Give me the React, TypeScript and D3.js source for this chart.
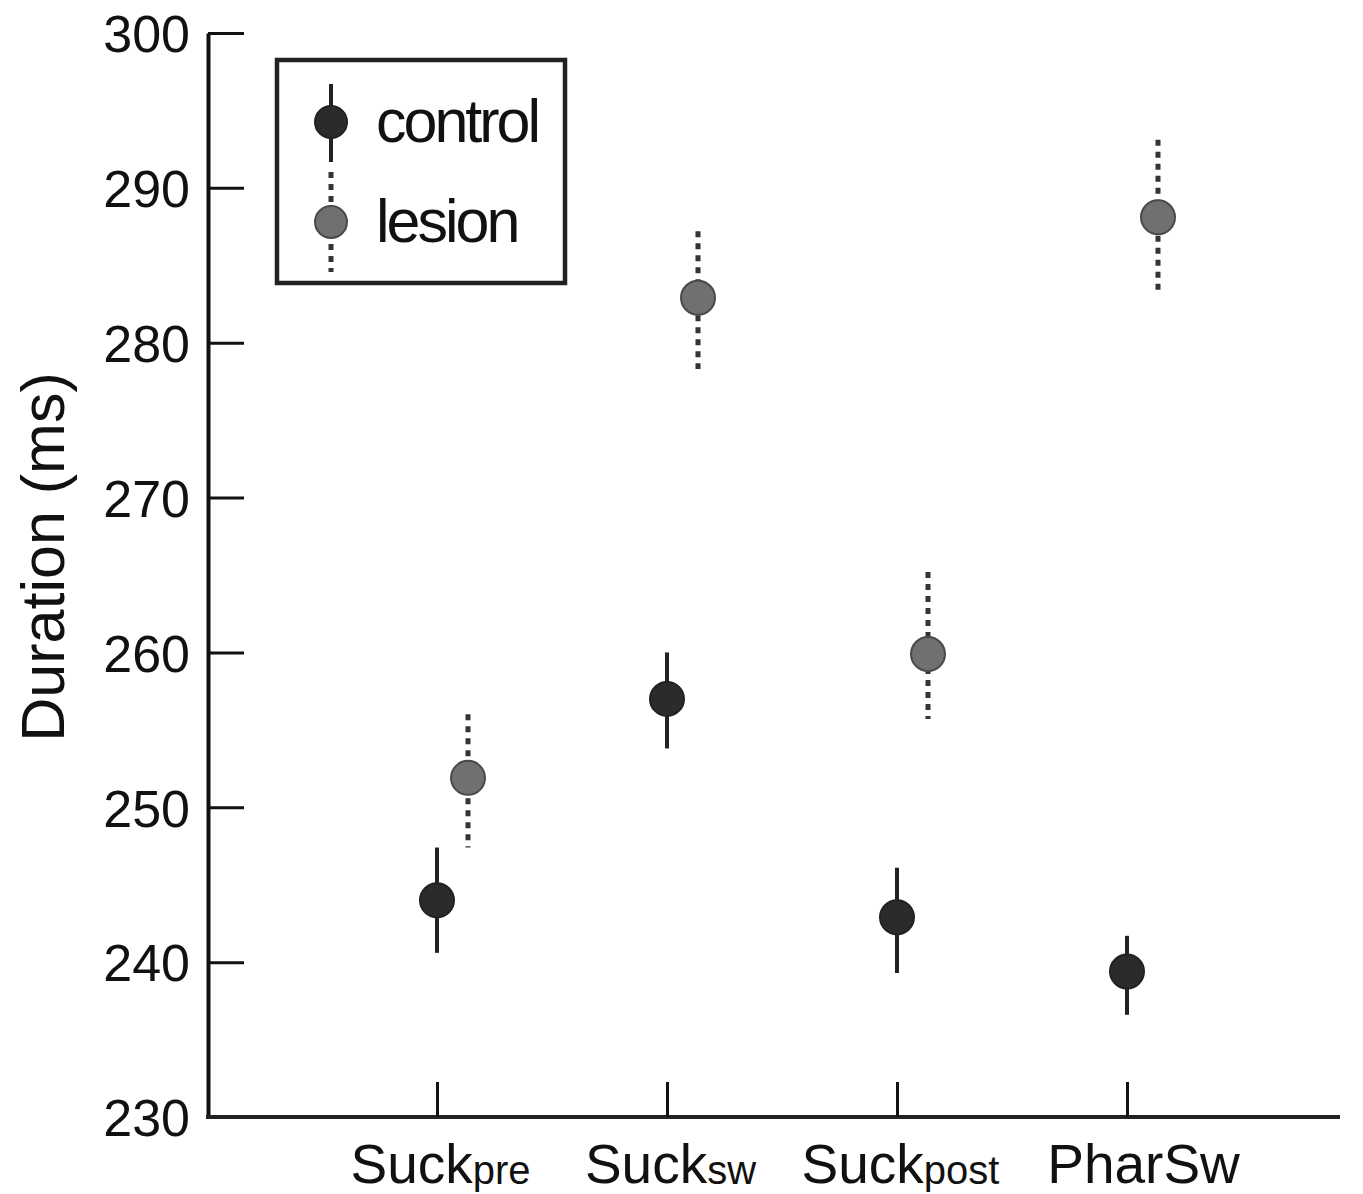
import React, { useEffect, useRef } from 'react';
import * as d3 from 'd3';

// categories and tick labels
const categories = ['Suckpre', 'SuckSW', 'Suckpost', 'PharSw'];
const labelMain = ['Suck', 'Suck', 'Suck', 'PharSw'];
const labelSub = ['pre', 'sw', 'post', ''];
const yTicks = [230, 240, 250, 260, 270, 280, 290, 300];

// series: mean and error bar limits (ms)
const controlMean = [244.0, 257.0, 242.9, 239.4];
const controlLow = [240.6, 253.8, 239.3, 236.6];
const controlHigh = [247.4, 260.0, 246.1, 241.7];

const lesionMean = [251.9, 282.9, 259.9, 288.1];
const lesionLow = [247.4, 278.3, 255.7, 283.2];
const lesionHigh = [256.0, 287.2, 265.2, 293.1];

const FONT = 'Liberation Sans, Arial, sans-serif';

const App = () => {
  const ref = useRef<SVGSVGElement | null>(null);

  useEffect(() => {
    if (!ref.current) return;
    const svg = d3.select(ref.current);
    svg.selectAll('*').remove();

    const left = 208, right = 1340, top = 33, bottom = 1117;

    const y = d3.scaleLinear().domain([230, 300]).range([bottom, top]);
    const x = d3.scalePoint<string>().domain(categories).range([437, 1127]);
    const offset = d3.scaleOrdinal<string, number>().domain(['control', 'lesion']).range([0, 31]);

    // Y axis
    const gy = svg.append('g')
      .attr('transform', `translate(${left},0)`)
      .call(d3.axisLeft(y).tickValues(yTicks).tickSize(-36).tickSizeOuter(0).tickPadding(18));
    gy.select('.domain').attr('stroke', '#111').attr('stroke-width', 4);
    gy.selectAll('.tick line').attr('stroke', '#111').attr('stroke-width', 3);
    gy.selectAll('.tick text')
      .attr('font-family', FONT)
      .attr('font-size', 52)
      .attr('fill', '#111')
      .attr('dy', '0.36em');

    // X axis
    svg.append('line')
      .attr('x1', left - 2).attr('x2', right)
      .attr('y1', bottom).attr('y2', bottom)
      .attr('stroke', '#222').attr('stroke-width', 4);
    const gx = svg.append('g')
      .attr('transform', `translate(0,${bottom})`)
      .call(d3.axisBottom(x).tickSize(-35).tickSizeOuter(0).tickPadding(0));
    gx.select('.domain').remove();
    gx.selectAll('.tick line').attr('stroke', '#111').attr('stroke-width', 3);
    gx.selectAll<SVGTextElement, string>('.tick text').each(function (_d, i) {
      const t = d3.select(this);
      t.text(null)
        .attr('font-family', FONT)
        .attr('fill', '#111')
        .attr('y', 66)
        .attr('dy', null)
        .attr('dx', labelSub[i] ? 3 : 16)
        .attr('text-anchor', 'middle');
      t.append('tspan').attr('font-size', 55).text(labelMain[i]);
      if (labelSub[i]) t.append('tspan').attr('font-size', 40).attr('dy', 1).text(labelSub[i]);
    });

    // Y title
    svg.append('text')
      .attr('transform', `translate(64,557) rotate(-90)`)
      .attr('text-anchor', 'middle')
      .attr('font-family', FONT)
      .attr('font-size', 61)
      .attr('fill', '#111')
      .text('Duration (ms)');

    const series = [
      { key: 'control', mean: controlMean, low: controlLow, high: controlHigh, fill: '#2b2b2b', stroke: '#222', dash: null as string | null },
      { key: 'lesion', mean: lesionMean, low: lesionLow, high: lesionHigh, fill: '#707070', stroke: '#333', dash: '6 6' },
    ];

    series.forEach(s => {
      const g = svg.append('g');
      const cx = (c: string) => (x(c) as number) + offset(s.key);
      g.selectAll('line.err')
        .data(categories)
        .join('line')
        .attr('class', 'err')
        .attr('x1', d => cx(d)).attr('x2', d => cx(d))
        .attr('y1', (_d, i) => y(s.high[i])).attr('y2', (_d, i) => y(s.low[i]))
        .attr('stroke', s.stroke)
        .attr('stroke-width', s.dash ? 5 : 4)
        .attr('stroke-dasharray', s.dash);
      g.selectAll('circle')
        .data(categories)
        .join('circle')
        .attr('cx', d => cx(d))
        .attr('cy', (_d, i) => y(s.mean[i]))
        .attr('r', 17)
        .attr('fill', s.fill)
        .attr('stroke', s.key === 'lesion' ? '#4a4a4a' : '#222')
        .attr('stroke-width', 2);
    });

    // Legend
    const lg = svg.append('g');
    lg.append('rect')
      .attr('x', 277).attr('y', 60).attr('width', 288).attr('height', 223)
      .attr('fill', 'white').attr('stroke', '#222').attr('stroke-width', 4.5);
    const legendItems = [
      { label: 'control', cy: 122, y1: 84, y2: 162, s: series[0] },
      { label: 'lesion', cy: 222, y1: 172, y2: 272, s: series[1] },
    ];
    legendItems.forEach(it => {
      lg.append('line')
        .attr('x1', 331).attr('x2', 331).attr('y1', it.y1).attr('y2', it.y2)
        .attr('stroke', it.s.stroke).attr('stroke-width', it.s.dash ? 5 : 4)
        .attr('stroke-dasharray', it.s.dash);
      lg.append('circle')
        .attr('cx', 331).attr('cy', it.cy).attr('r', 16)
        .attr('fill', it.s.fill)
        .attr('stroke', it.s.key === 'lesion' ? '#4a4a4a' : '#222')
        .attr('stroke-width', 2);
      lg.append('text')
        .attr('x', 376).attr('y', it.cy + 20)
        .attr('font-family', FONT)
        .attr('font-size', 61)
        .attr('letter-spacing', -3)
        .attr('fill', '#111')
        .text(it.label);
    });
  }, []);

  return (
    <svg
      ref={ref}
      width={1363}
      height={1194}
      style={{ position: 'absolute', left: 0, top: 0, background: 'white' }}
    />
  );
};

export default App;
